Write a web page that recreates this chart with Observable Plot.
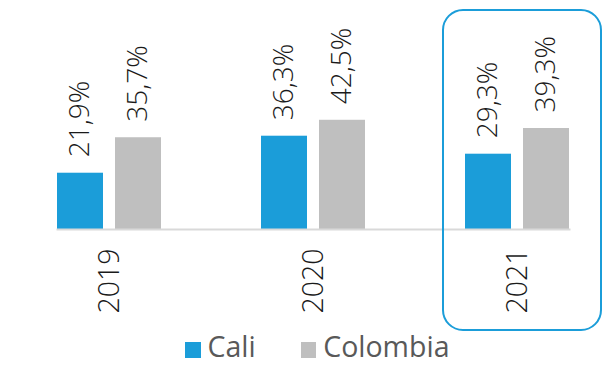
<!DOCTYPE html>
<html>
<head>
<meta charset="utf-8">
<script src="https://cdn.jsdelivr.net/npm/d3@7"></script>
<script src="https://cdn.jsdelivr.net/npm/@observablehq/plot@0.6"></script>
<style>
  html, body { margin: 0; padding: 0; background: #fff; }
  #chart { width: 611px; position: relative; }
  .legend { display: flex; align-items: center; padding-left: 185px; height: 29px; line-height: 29px; margin-top: -3px;
    font-family: "Open Sans", sans-serif; font-weight: 400; font-size: 28.5px; color: #595959; }
  .legend .item { display: flex; align-items: center; margin-right: 45px; }
  .legend .sw { width: 15.5px; height: 16px; margin-right: 7px; margin-top: 6px; }
</style>
</head>
<body>
<div id="chart"></div>
<script>
const years = ["2019", "2020", "2021"];
const series = ["Cali", "Colombia"];
const cali = [21.9, 36.3, 29.3];
const colombia = [35.7, 42.5, 39.3];
const colors = ["#1b9dd9", "#bfbfbf"];
const highlightYear = "2021";

const data = years.flatMap((y, i) => [
  {year: y, serie: "Cali", value: cali[i]},
  {year: y, serie: "Colombia", value: colombia[i]}
]);

const locale = d3.formatLocale({decimal: ",", thousands: ".", grouping: [3], currency: ["", ""]});
const fmt = locale.format(".1f");

const plot = Plot.plot({
  width: 611,
  height: 335,
  marginLeft: 8,
  marginRight: 0,
  marginTop: 0,
  marginBottom: 106,
  style: {fontFamily: "'Open Sans', sans-serif", fontWeight: 300, background: "white"},
  fx: {domain: years, range: [7, 619], paddingInner: 0.489, paddingOuter: 0.2445, label: null},
  x: {domain: series, paddingInner: 0.21, paddingOuter: 0, axis: null},
  y: {domain: [0, 229 / 2.57], axis: null},
  color: {domain: series, range: colors},
  marks: [
    Plot.barY(data, {fx: "year", x: "serie", y: "value", fill: "serie"}),
    Plot.text(data, {
      fx: "year", x: "serie", y: "value",
      text: d => fmt(d.value) + "%",
      rotate: -90, textAnchor: "start", dy: -16,
      fontSize: 28, fontWeight: 300, fill: "#1a1a1a"
    }),
    Plot.frame({anchor: "bottom", facet: "super", stroke: "#d9d9d9", strokeWidth: 2}),
    Plot.axisFx({anchor: "bottom", tickRotate: -90, tickSize: 0, tickPadding: 19, fontSize: 28.5, fontWeight: 300, fill: "#1a1a1a", label: null})
  ]
});

// highlight box around the 2021 group, positioned from the fx scale
const fxs = plot.scale("fx");
const x0 = fxs.apply(highlightYear);
const bw = fxs.bandwidth;
d3.select(plot).append("rect")
  .attr("x", x0 - 22)
  .attr("y", 10)
  .attr("width", bw + 54)
  .attr("height", 320)
  .attr("rx", 20)
  .attr("fill", "none")
  .attr("stroke", colors[0])
  .attr("stroke-width", 2);

const chart = document.getElementById("chart");
chart.appendChild(plot);

const legend = document.createElement("div");
legend.className = "legend";
series.forEach((s, i) => {
  const it = document.createElement("div");
  it.className = "item";
  const sw = document.createElement("span");
  sw.className = "sw";
  sw.style.background = colors[i];
  const t = document.createElement("span");
  t.textContent = s;
  it.appendChild(sw);
  it.appendChild(t);
  legend.appendChild(it);
});
chart.appendChild(legend);
</script>
</body>
</html>
